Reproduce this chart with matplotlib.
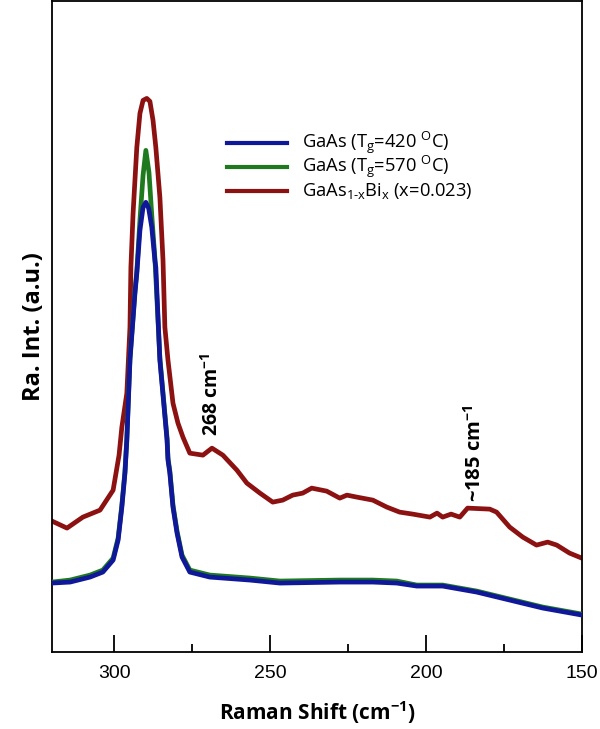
import numpy as np
import matplotlib
matplotlib.use("Agg")
import matplotlib.pyplot as plt

plt.rcParams['font.family'] = ['Open Sans', 'DejaVu Sans']
plt.rcParams['mathtext.fontset'] = 'custom'
plt.rcParams['mathtext.rm'] = 'Open Sans'
plt.rcParams['mathtext.it'] = 'Open Sans:italic'
plt.rcParams['mathtext.bf'] = 'Open Sans:bold'

# Raman shift (cm^-1) and intensity (a.u.)
shift_red = [320.0, 315.2, 310.1, 304.6, 300.4, 298.5, 297.6, 296.0, 295.0, 294.7,
             294.0, 292.8, 291.8, 290.8, 289.6, 288.6, 287.6, 286.7, 285.4, 284.4,
             283.8, 282.8, 281.2, 279.6, 278.0, 275.8, 271.6, 268.7, 265.2, 260.7,
             257.5, 253.3, 249.2, 246.0, 242.8, 239.6, 236.7, 231.9, 227.7, 225.4,
             222.2, 217.1, 212.6, 208.5, 204.3, 198.8, 196.5, 194.7, 192.0, 189.2,
             186.7, 179.6, 177.4, 173.2, 169.0, 164.6, 161.0, 158.1, 154.0, 150.1]
int_red = [131, 124, 135, 142, 162, 197, 225, 259, 325, 385,
           439, 505, 539, 552, 554, 551, 532, 505, 455, 392,
           325, 292, 249, 229, 215, 199, 197, 204, 197, 182,
           169, 159, 150, 152, 157, 159, 164, 161, 154, 157,
           155, 152, 145, 140, 138, 135, 139, 135, 138, 135,
           144, 143, 140, 125, 115, 107, 110, 107, 99, 94]

shift_blue = [320.0, 314.2, 307.8, 303.7, 300.4, 298.8, 297.6, 296.6, 296.0, 295.0,
              293.4, 292.8, 291.8, 290.8, 289.9, 289.0, 288.0, 287.0, 286.7, 285.4,
              283.1, 282.8, 282.2, 281.2, 279.9, 278.3, 275.8, 269.4, 256.5, 246.9,
              227.7, 217.1, 209.4, 203.0, 194.7, 183.8, 173.2, 162.6, 150.1]
int_blue = [69, 70, 75, 80, 92, 112, 145, 179, 212, 292,
            359, 379, 422, 445, 450, 444, 425, 392, 385, 292,
            212, 192, 179, 145, 119, 95, 80, 75, 72, 69,
            70, 70, 69, 66, 66, 60, 52, 44, 37]

shift_green = [320.0, 314.2, 307.8, 303.7, 300.4, 298.8, 297.6, 296.6, 296.0, 295.0,
               293.4, 292.8, 291.8, 290.8, 289.9, 288.9, 288.0, 287.0, 285.4, 283.1,
               282.8, 282.2, 281.2, 279.9, 278.3, 275.8, 269.4, 256.5, 246.9, 227.7,
               217.1, 209.4, 203.0, 194.7, 183.8, 173.2, 162.6, 150.1]
int_green = [70, 72, 77, 82, 94, 114, 147, 181, 214, 294,
             361, 381, 432, 477, 502, 480, 437, 394, 294, 214,
             194, 181, 147, 121, 97, 82, 77, 74, 71, 72,
             72, 71, 67, 67, 61, 53, 45, 38]

labels = [r'GaAs (T$_{\mathrm{g}}$=420 $^{\mathrm{O}}$C)',
          r'GaAs (T$_{\mathrm{g}}$=570 $^{\mathrm{O}}$C)',
          r'GaAs$_{\mathrm{1\text{-}x}}$Bi$_{\mathrm{x}}$ (x=0.023)']
colors = ['#10189a', '#1f7a1f', '#8c1111']

fig = plt.figure(figsize=(6, 7.29), dpi=100)
ax = fig.add_axes([0.0867, 0.1056, 0.8833, 0.8924])

ax.plot(shift_red, int_red, color=colors[2], lw=3.4, zorder=2, solid_joinstyle='round')
ax.plot(shift_green, int_green, color=colors[1], lw=3.4, zorder=3, solid_joinstyle='round')
ax.plot(shift_blue, int_blue, color=colors[0], lw=3.4, zorder=4, solid_joinstyle='round')

ax.set_xlim(320, 150)
ax.set_ylim(0, 651)
ax.set_xticks([300, 250, 200, 150])
ax.set_xticks([275, 225, 175], minor=True)
ax.set_yticks([])
ax.tick_params(axis='x', which='major', direction='in', length=12, width=1.3,
               labelsize=14, pad=9)
ax.tick_params(axis='x', which='minor', direction='in', length=6, width=1.3)
for t in ax.get_xticklabels():
    t.set_fontfamily('Liberation Sans')
for s in ax.spines.values():
    s.set_linewidth(1.3)

ax.set_xlabel(r'Raman Shift (cm$^{\mathbf{-1}}$)', fontsize=15, fontweight='bold', labelpad=13)
ax.set_ylabel('Ra. Int. (a.u.)', fontsize=17, fontweight='bold', labelpad=4)

ax.text(268.5, 216, r'268 cm$^{\mathbf{-1}}$', rotation=90, fontsize=14,
        fontweight='bold', ha='center', va='bottom')
ax.text(184.5, 150, r'~185 cm$^{\mathbf{-1}}$', rotation=90, fontsize=14.5,
        fontweight='bold', ha='center', va='bottom')

# legend drawn by hand so the rows sit close together
rows_y = [0.783, 0.746, 0.709]
for y, c, lab in zip(rows_y, colors, labels):
    ax.plot([0.330, 0.443], [y, y], color=c, lw=3, transform=ax.transAxes)
    ax.text(0.472, y, lab, fontsize=13.2, va='center', ha='left', transform=ax.transAxes)

fig.savefig('out.png', dpi=100)
